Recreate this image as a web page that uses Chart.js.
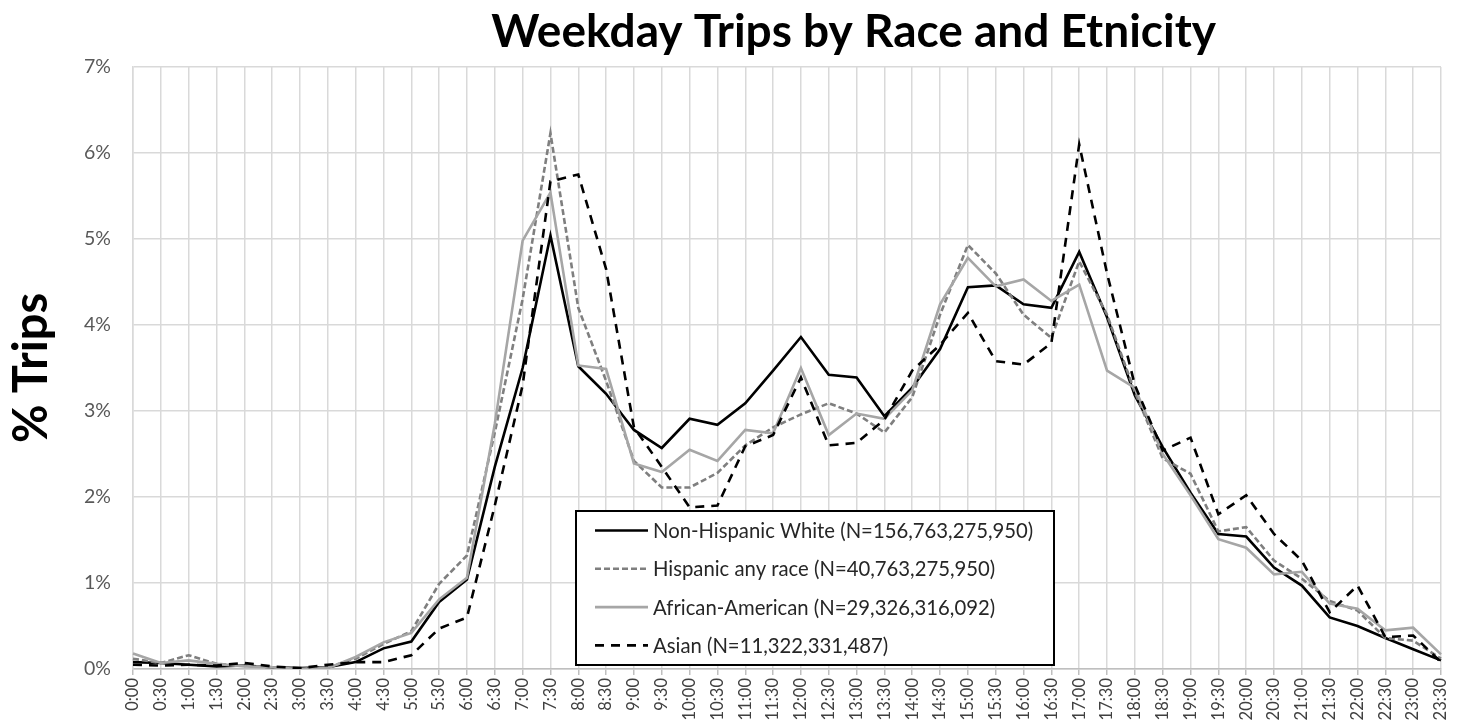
<!DOCTYPE html>
<html>
<head>
<meta charset="utf-8">
<script src="https://cdn.jsdelivr.net/npm/chart.js@4.4.1/dist/chart.umd.min.js"></script>
<style>
  html, body { margin: 0; padding: 0; background: #ffffff; }
  #wrap { width: 1463px; height: 725px; position: relative; }
</style>
</head>
<body>
<div id="wrap"><canvas id="tripsChart" width="1463" height="725"></canvas></div>
<script>
// Half-hour time slots across the weekday
const timeLabels = [
  '0:00','0:30','1:00','1:30','2:00','2:30','3:00','3:30','4:00','4:30','5:00','5:30',
  '6:00','6:30','7:00','7:30','8:00','8:30','9:00','9:30','10:00','10:30','11:00','11:30',
  '12:00','12:30','13:00','13:30','14:00','14:30','15:00','15:30','16:00','16:30','17:00','17:30',
  '18:00','18:30','19:00','19:30','20:00','20:30','21:00','21:30','22:00','22:30','23:00','23:30'
];

// Share of trips (%) starting in each slot
const nonHispanicWhite = [
  0.08, 0.07, 0.05, 0.03, 0.04, 0.02, 0.01, 0.02, 0.08, 0.24, 0.32, 0.78,
  1.04, 2.35, 3.50, 5.04, 3.52, 3.20, 2.78, 2.57, 2.91, 2.84, 3.09, 3.47,
  3.86, 3.42, 3.39, 2.94, 3.27, 3.72, 4.44, 4.46, 4.24, 4.20, 4.85, 4.09,
  3.18, 2.58, 2.05, 1.57, 1.54, 1.18, 0.97, 0.60, 0.50, 0.36, 0.23, 0.10
];
const hispanicAnyRace = [
  0.12, 0.07, 0.16, 0.06, 0.04, 0.02, 0.00, 0.02, 0.12, 0.29, 0.44, 0.99,
  1.32, 2.75, 4.30, 6.23, 4.20, 3.35, 2.42, 2.11, 2.11, 2.28, 2.60, 2.81,
  2.96, 3.09, 2.97, 2.75, 3.16, 4.12, 4.93, 4.60, 4.12, 3.85, 4.74, 4.12,
  3.22, 2.45, 2.27, 1.60, 1.65, 1.26, 1.05, 0.79, 0.68, 0.36, 0.33, 0.12
];
const africanAmerican = [
  0.18, 0.07, 0.10, 0.06, 0.03, 0.02, 0.00, 0.01, 0.14, 0.31, 0.42, 0.81,
  1.06, 2.85, 4.98, 5.54, 3.53, 3.49, 2.39, 2.29, 2.55, 2.42, 2.78, 2.74,
  3.50, 2.72, 2.97, 2.91, 3.24, 4.24, 4.78, 4.45, 4.53, 4.28, 4.47, 3.47,
  3.27, 2.50, 2.02, 1.51, 1.41, 1.10, 1.13, 0.76, 0.70, 0.45, 0.48, 0.17
];
const asian = [
  0.05, 0.04, 0.05, 0.04, 0.07, 0.03, 0.01, 0.05, 0.08, 0.08, 0.16, 0.47,
  0.60, 1.90, 3.30, 5.67, 5.75, 4.65, 2.81, 2.35, 1.88, 1.90, 2.59, 2.72,
  3.39, 2.60, 2.63, 2.90, 3.47, 3.77, 4.14, 3.58, 3.54, 3.79, 6.10, 4.60,
  3.30, 2.54, 2.69, 1.80, 2.02, 1.57, 1.26, 0.66, 0.97, 0.37, 0.39, 0.08
];

const seriesNames = [
  'Non-Hispanic White (N=156,763,275,950)',
  'Hispanic any race (N=40,763,275,950)',
  'African-American (N=29,326,316,092)',
  'Asian (N=11,322,331,487)'
];

const chartTitle = 'Weekday Trips by Race and Etnicity';
const yAxisTitle = '% Trips';
const yTickMax = 7;

const FONT = 'Lato, "Open Sans", "DejaVu Sans", sans-serif';
const GRID = '#d9d9d9';

// Title drawn above the plot and a boxed legend inside the plot area
const decorations = {
  id: 'decorations',
  afterDraw(chart) {
    const ctx = chart.ctx;
    const area = chart.chartArea;
    ctx.save();
    ctx.fillStyle = '#000000';
    ctx.font = 'bold 46px ' + FONT;
    ctx.textAlign = 'center';
    ctx.textBaseline = 'middle';
    ctx.fillText(chartTitle, area.left + (area.right - area.left) * 0.551, 32);

    // legend box
    const bx = area.left + 443, by = area.bottom - 158, bw = 478, bh = 154;
    ctx.fillStyle = '#ffffff';
    ctx.fillRect(bx, by, bw, bh);
    ctx.lineWidth = 2;
    ctx.strokeStyle = '#000000';
    ctx.strokeRect(bx, by, bw, bh);
    ctx.font = '20.3px ' + FONT;
    ctx.textAlign = 'left';
    chart.data.datasets.forEach((ds, i) => {
      const y = by + 19.5 + i * 38.3;
      ctx.beginPath();
      ctx.setLineDash(ds.borderDash || []);
      ctx.strokeStyle = ds.borderColor;
      ctx.lineWidth = ds.borderWidth;
      ctx.moveTo(bx + 19, y);
      ctx.lineTo(bx + 72, y);
      ctx.stroke();
      ctx.setLineDash([]);
      ctx.fillStyle = '#262626';
      ctx.fillText(ds.label, bx + 77, y + 1);
    });
    ctx.restore();
  }
};

new Chart(document.getElementById('tripsChart'), {
  type: 'line',
  data: {
    labels: timeLabels,
    datasets: [
      { label: seriesNames[0], data: nonHispanicWhite, borderColor: '#000000', borderWidth: 2.6, order: 4 },
      { label: seriesNames[1], data: hispanicAnyRace, borderColor: '#7f7f7f', borderWidth: 2.6, borderDash: [6, 3], order: 3 },
      { label: seriesNames[2], data: africanAmerican, borderColor: '#a6a6a6', borderWidth: 2.6, order: 2 },
      { label: seriesNames[3], data: asian, borderColor: '#000000', borderWidth: 2.6, borderDash: [9, 7], order: 1 }
    ]
  },
  options: {
    responsive: false,
    animation: false,
    devicePixelRatio: 1,
    layout: { padding: { left: 0, top: 67, right: 22, bottom: 0 } },
    elements: { point: { radius: 0 }, line: { tension: 0, fill: false, borderCapStyle: 'butt', borderJoinStyle: 'miter' } },
    plugins: { legend: { display: false }, title: { display: false }, tooltip: { enabled: false } },
    scales: {
      x: {
        offset: false,
        grid: { color: GRID, lineWidth: 1.5, drawTicks: true, tickLength: 6, tickColor: '#bfbfbf' },
        border: { color: '#bfbfbf', width: 1.5 },
        ticks: {
          autoSkip: false, maxRotation: 90, minRotation: 90, padding: 3,
          color: '#404040', font: { family: FONT, size: 16.5 }
        },
        afterFit(scale) { scale.height = 56; scale.paddingLeft = 0; scale.paddingRight = 0; }
      },
      y: {
        min: 0, max: yTickMax,
        grid: { color: GRID, lineWidth: 1.5, drawTicks: false },
        border: { color: GRID, width: 1.5 },
        ticks: {
          stepSize: 1, padding: 22, color: '#595959',
          font: { family: FONT, size: 19.5 },
          callback: (v) => v + '%'
        },
        title: {
          display: true, text: yAxisTitle, color: '#000000',
          font: { family: FONT, size: 47, weight: 'bold' }, padding: { top: 4, bottom: 0 }
        },
        afterFit(scale) { scale.width = 133; scale.paddingTop = 0; scale.paddingBottom = 0; }
      }
    }
  },
  plugins: [decorations]
});
</script>
</body>
</html>
